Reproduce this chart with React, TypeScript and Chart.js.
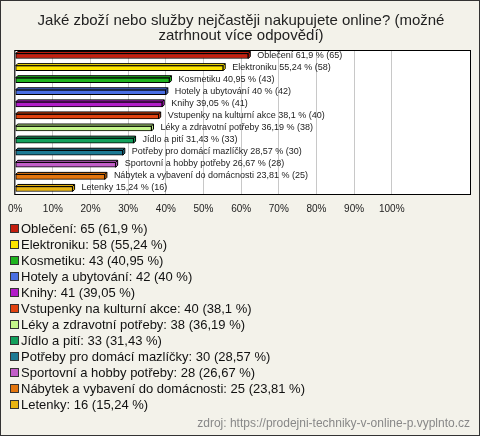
import React, { useEffect, useRef } from "react";
import { Chart, registerables } from "chart.js";

Chart.register(...registerables);

const titleLines = [
  "Jaké zboží nebo služby nejčastěji nakupujete online? (možné",
  "zatrhnout více odpovědí)",
];
const categories = [
  "Oblečení",
  "Elektroniku",
  "Kosmetiku",
  "Hotely a ubytování",
  "Knihy",
  "Vstupenky na kulturní akce",
  "Léky a zdravotní potřeby",
  "Jídlo a pití",
  "Potřeby pro domácí mazlíčky",
  "Sportovní a hobby potřeby",
  "Nábytek a vybavení do domácnosti",
  "Letenky",
];
const counts = [65, 58, 43, 42, 41, 40, 38, 33, 30, 28, 25, 16];
const percents = [61.9, 55.24, 40.95, 40, 39.05, 38.1, 36.19, 31.43, 28.57, 26.67, 23.81, 15.24];
const colors = [
  "#c41e0e",
  "#ffe600",
  "#1fb41f",
  "#4a6fe3",
  "#b21cc8",
  "#e2420f",
  "#c4f58a",
  "#12a05c",
  "#1c7a94",
  "#c25ec8",
  "#e4760e",
  "#e8b412",
];
const tickValues = [0, 10, 20, 30, 40, 50, 60, 70, 80, 90, 100];
const sourceText = "zdroj: https://prodejni-techniky-v-online-p.vyplnto.cz";

const FONT = "'Liberation Sans', Arial, sans-serif";
const fmt = (v: number) => String(v).replace(".", ",");

const decor = {
  id: "decor",
  beforeDraw(chart: any) {
    const { ctx, chartArea: a, width, height } = chart;
    ctx.save();
    ctx.fillStyle = "#f3f2ea";
    ctx.fillRect(0, 0, width, height);
    ctx.fillStyle = "#ffffff";
    ctx.fillRect(a.left, a.top, a.right - a.left, a.bottom - a.top);
    ctx.restore();
  },
  afterDatasetsDraw(chart: any) {
    const { ctx } = chart;
    const meta = chart.getDatasetMeta(0);
    const d = 2;
    ctx.save();
    meta.data.forEach((bar: any, i: number) => {
      const { x, y, base, height } = bar.getProps(["x", "y", "base", "height"], true);
      const top = y - height / 2;
      const bottom = y + height / 2;
      ctx.fillStyle = colors[i];
      ctx.strokeStyle = "#000";
      ctx.lineWidth = 1;
      ctx.beginPath();
      ctx.moveTo(base, top);
      ctx.lineTo(base + d, top - d);
      ctx.lineTo(x + d, top - d);
      ctx.lineTo(x + d, bottom - d);
      ctx.lineTo(x, bottom);
      ctx.lineTo(x, top);
      ctx.closePath();
      ctx.fill();
      ctx.stroke();
      ctx.beginPath();
      ctx.moveTo(x, top);
      ctx.lineTo(x + d, top - d);
      ctx.stroke();
      ctx.fillStyle = "#222";
      ctx.font = `9px ${FONT}`;
      ctx.textAlign = "left";
      ctx.textBaseline = "middle";
      ctx.fillText(`${categories[i]} ${fmt(percents[i])} % (${counts[i]})`, x + d + 7, y - 1);
    });
    ctx.restore();
  },
  afterDraw(chart: any) {
    const { ctx, chartArea: a, width, height } = chart;
    ctx.save();
    ctx.strokeStyle = "#000";
    ctx.lineWidth = 1;
    ctx.strokeRect(a.left - 0.5, a.top + 0.5, a.right - a.left, a.bottom - a.top - 1);
    // legend
    ctx.font = `13px ${FONT}`;
    ctx.textBaseline = "middle";
    ctx.textAlign = "left";
    categories.forEach((c, i) => {
      const cy = 229 + i * 16;
      ctx.fillStyle = colors[i];
      ctx.fillRect(10.5, cy - 4.5, 8, 8);
      ctx.strokeStyle = "#333";
      ctx.strokeRect(10.5, cy - 4.5, 8, 8);
      ctx.fillStyle = "#111";
      ctx.fillText(`${c}: ${counts[i]} (${fmt(percents[i])} %)`, 21, cy);
    });
    // source
    ctx.font = `12px ${FONT}`;
    ctx.fillStyle = "#888";
    ctx.textAlign = "right";
    ctx.fillText(sourceText, 470, 424);
    // outer border
    ctx.strokeStyle = "#333";
    ctx.strokeRect(0.5, 0.5, width - 1, height - 1);
    ctx.restore();
  },
};

export default function App() {
  const ref = useRef<HTMLCanvasElement | null>(null);
  useEffect(() => {
    if (!ref.current) return;
    const chart = new Chart(ref.current, {
      type: "bar",
      data: {
        labels: categories,
        datasets: [
          {
            data: percents,
            backgroundColor: colors,
            borderColor: "#000",
            borderWidth: 1,
            borderSkipped: false,
            barThickness: 5,
          },
        ],
      },
      options: {
        indexAxis: "y",
        animation: false,
        responsive: false,
        layout: { padding: { left: 11, right: 9, top: 0, bottom: 0 } },
        plugins: {
          legend: { display: false },
          tooltip: { enabled: false },
          title: {
            display: true,
            text: titleLines,
            color: "#222",
            font: { family: FONT, size: 15, weight: "normal", lineHeight: 1 },
            padding: { top: 13, bottom: 7 },
          },
        },
        scales: {
          x: {
            min: 0,
            max: 121.05,
            afterBuildTicks: (s: any) => {
              s.ticks = tickValues.map((v) => ({ value: v }));
            },
            afterFit: (s: any) => {
              s.height = 241;
            },
            grid: { color: "#c8c8c8", drawTicks: false },
            border: { display: false },
            ticks: {
              callback: (v: any) => v + "%",
              font: { family: FONT, size: 10 },
              color: "#222",
              padding: 8,
              maxRotation: 0,
              autoSkip: false,
            },
          },
          y: { display: false },
        },
      },
      plugins: [decor],
    } as any);
    return () => chart.destroy();
  }, []);
  return (
    <div style={{ position: "fixed", left: 0, top: 0, width: 480, height: 436 }}>
      <canvas ref={ref} width={480} height={436} />
    </div>
  );
}
